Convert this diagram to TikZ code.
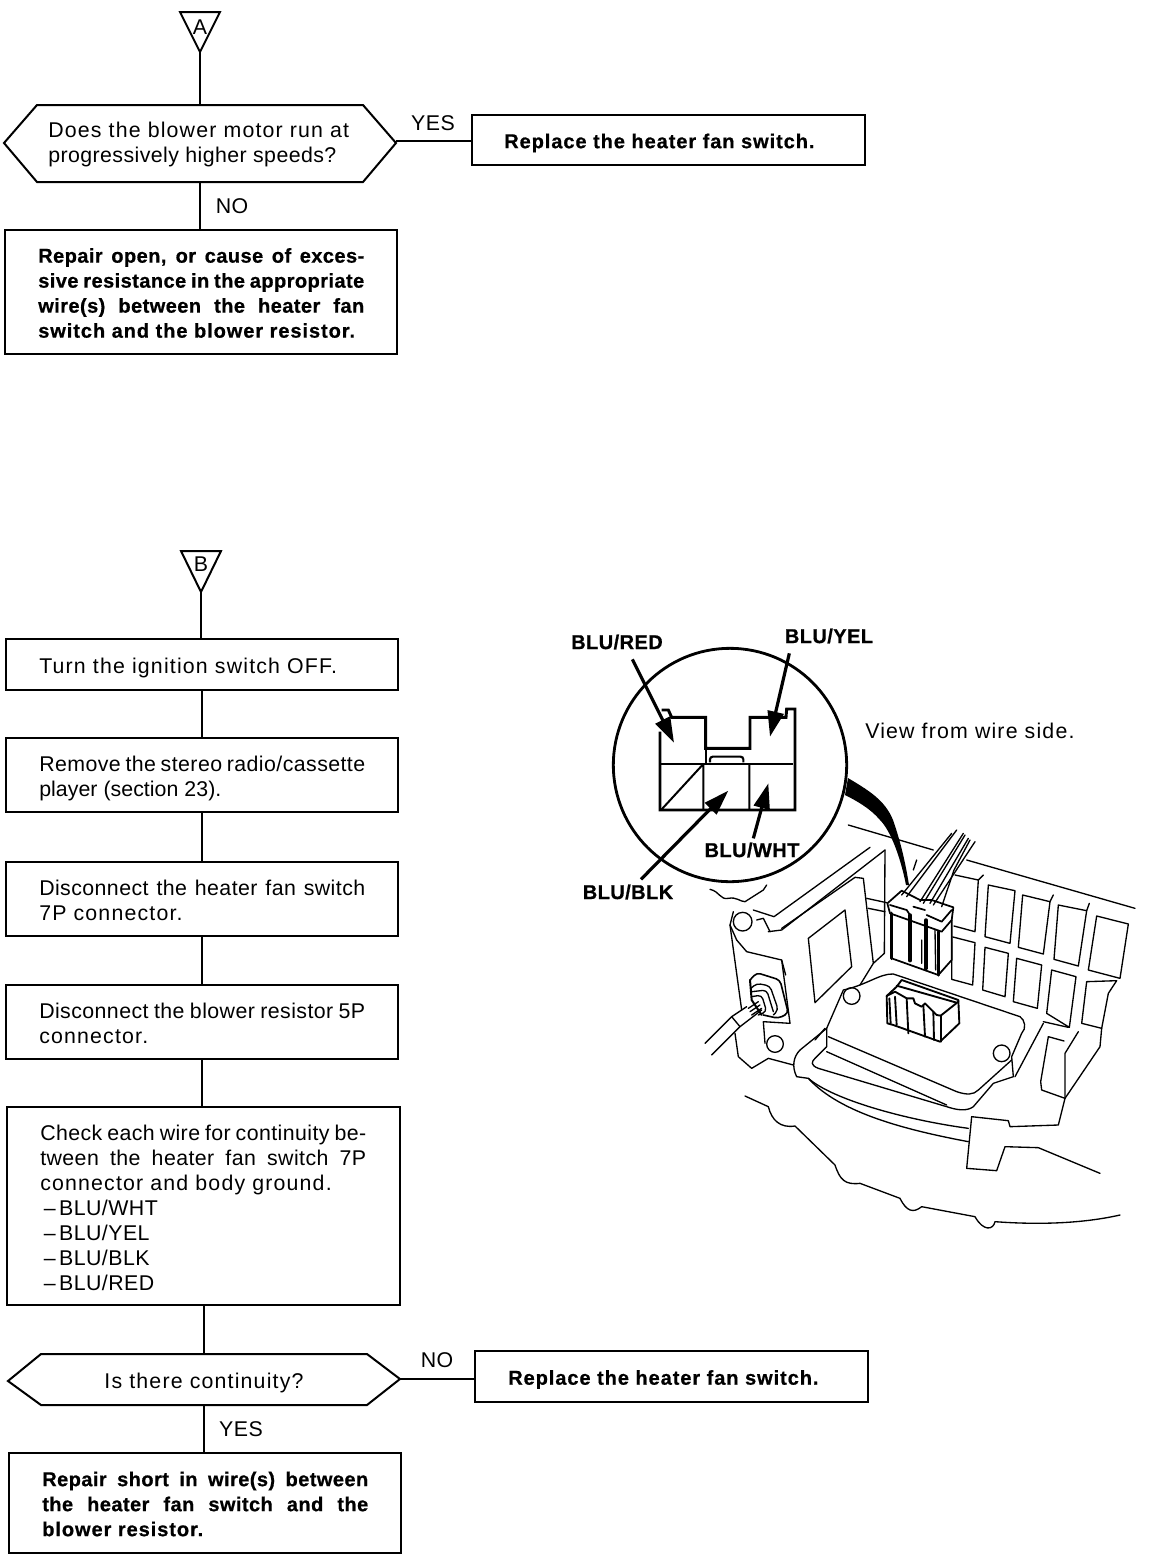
\documentclass[tikz,border=0pt]{standalone}
\usepackage{fontspec}
\setmainfont[LetterSpace=5.5]{Liberation Sans}
\newfontfamily\tightfont[LetterSpace=2]{Liberation Sans}
\newfontfamily\narrowfont[LetterSpace=0.2]{Liberation Sans}
\newfontfamily\boldtxt[LetterSpace=4.7,BoldFeatures={FakeBold=0.7}]{Liberation Sans}
\newfontfamily\boldtight[LetterSpace=2.2,BoldFeatures={FakeBold=0.7}]{Liberation Sans}
\usetikzlibrary{arrows.meta}
\newcommand{\jline}[1]{\makebox[244.5pt][s]{\tightfont #1}}
\newcommand{\jbold}[1]{\makebox[244.5pt][s]{\boldtight\bfseries #1}}
\tikzset{
  flow/.style={line width=1.5pt,black},
  boxnode/.style={draw,line width=1.5pt,anchor=north west,inner sep=0pt,outer sep=0pt},
  plain/.style={font=\fontsize{16}{18.75}\selectfont,align=left,inner sep=0pt},
  strong/.style={font=\fontsize{15}{18.75}\selectfont\boldtxt\bfseries,align=left,inner sep=0pt},
  lbl/.style={font=\fontsize{15}{17}\selectfont\boldtight\bfseries,inner sep=0pt},
  ptr/.style={line width=2.4pt,-{Triangle[length=19pt,width=12pt]}},
  art/.style={line width=1pt,line join=round,line cap=round},
  z2/.style={x=0.25pt,y=-0.25pt,shift={(2100,2460)}},
  z1/.style={x=0.25pt,y=-0.25pt,shift={(1680,1830)}}
}
\begin{document}
\begin{tikzpicture}[x=0.75pt,y=-0.75pt]
\useasboundingbox (0,0) rectangle (1152,1564);
% ---- Flow A
\coordinate (ta) at (200,52);
\draw[flow] (180,12) -- (220,12) -- (ta) -- cycle;
\node[plain] (la) at (200,27) {A};
\node[plain,anchor=west] (h1) at (48,144)
  {Does the blower motor run at\\{\tightfont progressively higher speeds?}};
\draw[flow] (4,143) -- (37,105) -- (363,105) -- (396,143) -- (363,182) -- (37,182) -- cycle;
\coordinate (h1t) at (200,105);\coordinate (h1b) at (200,182);\coordinate (h1r) at (396,141);
\node[boxnode,minimum width=294.75pt,minimum height=37.5pt] (b1) at (472,115) {};
\node[strong,anchor=west] (b1t) at (504,143) {Replace the heater fan switch.};
\node[boxnode,minimum width=294pt,minimum height=93pt] (b2) at (5,230) {};
\node[strong,anchor=west] (b2t) at (38,293) {\jbold{Repair open, or cause of exces-}\\\jbold{sive resistance in the appropriate}\\\jbold{wire(s) between the heater fan}\\switch and the blower resistor.};
\draw[flow] (ta) -- (h1t);
\draw[flow] (h1r) -- (b1.west |- h1r);
\draw[flow] (h1b) -- (b2.north -| h1b);
\node[plain] (yes1) at (433,123) {\tightfont YES};
\node[plain] (no1) at (232,206) {\tightfont NO};
% ---- Flow B
\coordinate (tb) at (201,592);
\draw[flow] (181,551) -- (221,551) -- (tb) -- cycle;
\node[plain] (lb) at (201,564) {B};
\node[boxnode,minimum width=294pt,minimum height=38.25pt] (s1) at (6,639) {};
\node[plain,anchor=west] (s1t) at (39,667.5) {Turn the ignition switch OFF.};
\node[boxnode,minimum width=294pt,minimum height=55.5pt] (s2) at (6,738) {};
\node[plain,anchor=west] (s2t) at (39,778) {\jline{Remove the stereo radio/cassette}\\{\narrowfont player (section 23).}};
\node[boxnode,minimum width=294pt,minimum height=55.5pt] (s3) at (6,862) {};
\node[plain,anchor=west] (s3t) at (39,900) {\jline{Disconnect the heater fan switch}\\7P connector.};
\node[boxnode,minimum width=294pt,minimum height=55.5pt] (s4) at (6,985) {};
\node[plain,anchor=west] (s4t) at (39,1023) {\jline{Disconnect the blower resistor 5P}\\connector.};
\node[boxnode,minimum width=294.75pt,minimum height=148.5pt] (s5) at (7,1107) {};
\node[plain,anchor=west] (s5t) at (40,1208) {\jline{Check each wire for continuity be-}\\\jline{tween the heater fan switch 7P}\\connector and body ground.\\{\tightfont\,–\,BLU/WHT}\\{\tightfont\,–\,BLU/YEL}\\{\tightfont\,–\,BLU/BLK}\\{\tightfont\,–\,BLU/RED}};
\node[plain,minimum width=294pt,minimum height=38pt] (h2) at (204,1383) {Is there continuity?};
\draw[flow] (8,1381) -- (41,1354) -- (367,1354) -- (400,1379) -- (367,1405) -- (41,1405) -- cycle;
\coordinate (h2t) at (204,1354);\coordinate (h2b) at (204,1405);\coordinate (h2r) at (400,1379);
\node[boxnode,minimum width=294.75pt,minimum height=38.25pt] (b3) at (475,1351) {};
\node[strong,anchor=west] (b3t) at (508,1379.5) {Replace the heater fan switch.};
\node[boxnode,minimum width=294pt,minimum height=75pt] (b4) at (9,1453) {};
\node[strong,anchor=west] (b4t) at (42,1504) {\jbold{Repair short in wire(s) between}\\\jbold{the heater fan switch and the}\\blower resistor.};
\draw[flow] (tb) -- (tb |- s1.north);
\draw[flow] (s1) -- (s2);
\draw[flow] (s2) -- (s3);
\draw[flow] (s3) -- (s4);
\draw[flow] (s4.south) -- (s4.south |- s5.north);
\draw[flow] (h2t |- s5.south) -- (h2t);
\draw[flow] (h2r) -- (b3.west |- h2r);
\draw[flow] (h2b) -- (h2b |- b4.north);
\node[plain] (no2) at (437,1360) {\tightfont NO};
\node[plain] (yes2) at (241,1429) {\tightfont YES};
% ---- Detail labels
\node[lbl] (lred) at (617,642) {BLU/RED};
\node[lbl] (lyel) at (829,636) {BLU/YEL};
\node[lbl] (lblk) at (628,892) {BLU/BLK};
\node[lbl] (lwht) at (752,850) {BLU/WHT};
\node[plain,anchor=west] (view) at (865,731) {View from wire side.};
% ---- Magnifier
\draw[line width=2.1pt] (730,765) circle (87.5pt);
\fill (848,778) .. controls (868,790) and (885,800) .. (893,820) .. controls (900,840) and (905,860) .. (909,885) -- (906,885) .. controls (900,855) and (890,830) .. (880,820) .. controls (870,808) and (855,800) .. (845,795) -- cycle;
\begin{scope}[z1]
\draw[line width=2.2pt,line join=miter] (300,365) -- (300,600) -- (705,600) -- (705,297) -- (680,297) -- (678,322) -- (570,322) -- (570,415) -- (437,415) -- (437,322) -- (335,322) -- (325,300) -- (305,300);
\draw[line width=1.5pt] (300,462) -- (700,462);
\draw[line width=1.5pt] (430,462) -- (430,600) (568,462) -- (568,600) (305,598) -- (430,462);
\draw[line width=1.5pt] (437,415) -- (437,462);
\draw[line width=1.6pt,rounded corners=2pt] (450,457) -- (450,440) -- (550,440) -- (550,457);
\coordinate (ar1) at (217,148);\coordinate (ar2) at (342,398);
\coordinate (ay1) at (688,130);\coordinate (ay2) at (630,380);
\coordinate (ak1) at (243,808);\coordinate (ak2) at (505,542);
\coordinate (aw1) at (580,685);\coordinate (aw2) at (625,520);
\draw[ptr] (ar1) -- (ar2);
\draw[ptr] (ay1) -- (ay2);
\draw[ptr] (ak1) -- (ak2);
\draw[ptr] (aw1) -- (aw2);
\end{scope}
% ---- Illustration
\begin{scope}[z2,art]
% top edge
\draw (445,15) -- (700,90);
\draw (800,120) -- (1305,265);
% grid
\draw (765,165) -- (835,180) -- (825,335) -- (762,318);
\draw (835,180) -- (850,165);
\draw (865,195) -- (945,212) -- (930,370) -- (855,350) -- cycle;
\draw (968,225) -- (1050,245) -- (1030,402) -- (955,382) -- cycle;
\draw (1050,245) -- (1060,225);
\draw (1075,255) -- (1160,272) -- (1135,438) -- (1062,418) -- cycle;
\draw (1160,272) -- (1168,250);
\draw (1190,288) -- (1285,312) -- (1260,475) -- (1165,450) -- cycle;
\draw (755,350) -- (825,368) -- (818,495) -- (755,478) -- cycle;
\draw (855,382) -- (925,400) -- (915,530) -- (848,510) -- cycle;
\draw (950,415) -- (1025,435) -- (1012,565) -- (940,545) -- cycle;
\draw (1055,450) -- (1128,470) -- (1108,622) -- (1040,580) -- cycle;
\draw (1250,482) -- (1225,520) -- (1205,625) -- (1145,610) -- (1160,485) -- (1250,482);
\draw (1205,625) -- (1200,680) -- (1095,835) -- (1075,915) -- (930,920) -- (925,902) -- (815,890) -- (800,1045) -- (890,1052) -- (915,980) -- (1015,983) -- (1200,1060);
\draw (1095,835) -- (1025,810) -- (1022,785) -- (1045,650) -- (1092,663);
\draw (1135,635) -- (1095,700) -- (1095,835);
\draw (1030,610) -- (945,770);
\draw (1105,622) -- (1030,605);
% left panel
\draw (30,208) .. controls (60,215) and (60,240) .. (85,235) .. controls (110,230) and (120,245) .. (135,245) -- (190,210) -- (200,195);
\draw (510,82) -- (222,290) -- (160,270);
\draw (555,90) -- (245,330) -- (205,335);
\draw (465,172) -- (245,325);
\draw (465,172) -- (490,175) -- (520,430);
\draw (555,90) -- (553,400) -- (520,430) -- (480,495);
\draw (500,235) -- (560,248);
\draw (505,265) -- (555,275);
\draw (100,275) -- (90,315) -- (110,360) -- (140,395) -- (245,420) -- (270,610) -- (190,605) -- (195,670);
\draw (90,315) -- (125,570);
\draw (245,420) -- (257,465);
\draw (105,640) -- (115,710) -- (155,745) -- (205,715) -- (280,735);
\draw (128,305) circle (28);
\draw (225,672) circle (25);
\draw (455,528) circle (25);
\draw (905,700) circle (25);
\draw (170,300) -- (190,295) -- (210,335);
\draw (325,355) -- (435,270) -- (455,440) -- (345,548) -- cycle;
% small connector on the left
\draw[rounded corners=3pt,line width=1.2pt] (150,480) -- (170,458) -- (240,480) -- (265,580) -- (235,595) -- (190,585);
\draw[rounded corners=3pt] (153,505) -- (170,490) -- (210,498) -- (235,570) -- (220,585);
\draw[rounded corners=3pt] (155,515) -- (200,510) -- (220,575);
\draw[rounded corners=3pt] (155,530) -- (185,525) -- (200,575) -- (175,585);
\draw[line width=1.5pt] (150,480) -- (155,540) -- (185,585);
\draw (15,670) -- (95,590) -- (140,560);
\draw (35,705) -- (120,620) -- (185,570);
\draw (95,590) -- (120,620);
\draw (145,565) -- (175,545) (150,575) -- (180,555) (155,585) -- (185,565);
% tray
\draw (430,510) .. controls (500,495) and (540,460) .. (580,462) -- (960,590) .. controls (975,600) and (980,625) .. (965,640) -- (935,710) -- (940,770) -- (880,790) -- (820,860) .. controls (800,875) and (770,870) .. (740,860) -- (355,745) .. controls (330,735) and (335,725) .. (345,715) -- (380,680) -- (380,625) -- (430,510);
\draw (385,650) -- (770,815) .. controls (800,825) and (820,825) .. (835,810) -- (935,720);
\draw (380,695) -- (740,855);
\draw (345,660) -- (375,625);
\draw (300,690) -- (380,625);
\draw (300,690) .. controls (280,710) and (275,740) .. (290,770) -- (325,775) .. controls (400,840) and (620,900) .. (805,925);
\draw (325,775) .. controls (420,880) and (620,930) .. (805,965);
% lower connector
\fill[white] (560,528) -- (590,500) -- (605,480) -- (775,540) -- (778,610) -- (720,665) -- (580,615) -- (562,610) -- cycle;
\begin{scope}[line width=1.4pt]
\draw (560,528) -- (590,500) -- (605,480) -- (775,540) -- (778,610) -- (720,665) -- (580,615) -- (562,610) -- cycle;
\draw (590,497) -- (770,548);
\draw (560,528) -- (585,515) -- (620,535) -- (640,535) -- (645,550) -- (665,560) -- (675,550) -- (710,585) -- (722,587) -- (775,545);
\draw (722,587) -- (722,665);
\draw (568,535) -- (572,610) (585,530) -- (590,615) (620,535) -- (625,640) (670,555) -- (675,650) (700,575) -- (702,660);
\end{scope}
% upper connector
\fill[white] (562,250) -- (605,212) -- (660,240) -- (695,240) -- (760,262) -- (755,420) -- (715,465) -- (575,415) -- cycle;
\begin{scope}[line width=1.3pt]
\draw (562,250) -- (605,212) -- (660,240) -- (695,240) -- (760,262) -- (755,300) -- (725,335) -- (570,280) -- cycle;
\draw (570,255) -- (620,270) -- (630,285);
\draw (640,260) -- (675,270);
\draw (680,285) -- (725,305) -- (755,270);
\draw (755,300) -- (755,420) -- (715,465) -- (575,415);
\end{scope}
\draw[line width=2.6pt] (574,280) -- (574,415) (630,285) -- (630,422) (678,300) -- (678,445) (715,335) -- (715,465);
\draw[line width=1pt] (665,360) -- (665,430) (705,330) -- (707,450);
% wires
\draw (620,230) -- (770,30);
\draw (605,225) -- (755,40);
\draw (660,245) -- (790,40);
\draw (670,250) -- (795,45);
\draw (690,250) -- (805,55);
\draw (700,255) -- (825,65);
\draw (725,260) -- (762,150) -- (810,60);
\draw (650,120) -- (640,150);
% front wavy edge
\draw (135,828) -- (205,860) .. controls (215,900) and (240,925) .. (285,918) -- (405,1035) .. controls (420,1080) and (435,1095) .. (480,1090) -- (600,1135) .. controls (620,1175) and (640,1180) .. (665,1160) -- (825,1190) .. controls (850,1235) and (880,1230) .. (885,1205) .. controls (1020,1215) and (1150,1210) .. (1260,1185);
\end{scope}
\end{tikzpicture}
\end{document}
